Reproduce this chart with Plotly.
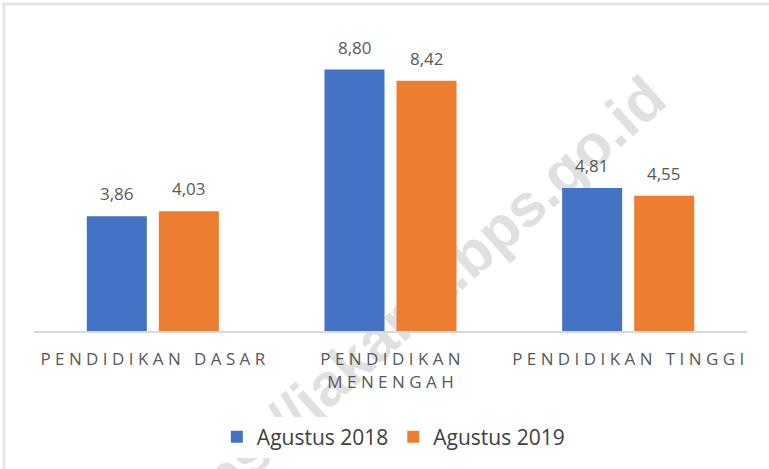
import plotly.graph_objects as go

categories = ["PENDIDIKAN DASAR", "PENDIDIKAN MENENGAH", "PENDIDIKAN TINGGI"]
tick_labels = [
    "P E N D I D I K A N   D A S A R",
    "P E N D I D I K A N<br>M E N E N G A H",
    "P E N D I D I K A N   T I N G G I",
]
series_names = ["Agustus 2018", "Agustus 2019"]
values_2018 = [3.86, 8.80, 4.81]
values_2019 = [4.03, 8.42, 4.55]
colors = ["#4472C4", "#ED7D31"]
watermark = "https://jakarta.bps.go.id"

FONT = "Open Sans"


def spaced(s):
    return s.replace(" ", "\u00a0")


fig = go.Figure()
for name, vals, col in zip(series_names, [values_2018, values_2019], colors):
    fig.add_trace(go.Bar(
        x=categories, y=vals, name=name,
        marker=dict(color=col, line=dict(width=0)),
    ))

# data labels above each bar
bar_px = 60
gap_px = 12
for s, vals in enumerate([values_2018, values_2019]):
    shift = (s - 0.5) * (bar_px + gap_px)
    for c, v in zip(categories, vals):
        fig.add_annotation(
            x=c, y=v, text=f"{v:.2f}".replace(".", ","),
            showarrow=False, yanchor="bottom", xanchor="center",
            xshift=shift, yshift=9,
            font=dict(family=FONT, size=17, color="#595959"),
        )

# watermark behind bars
fig.add_shape(
    type="line", xref="paper", yref="paper",
    x0=0.504, y0=0.07, x1=0.524, y1=0.07,
    line=dict(color="rgba(0,0,0,0)", width=1),
    layer="below",
    label=dict(text=watermark, textposition="middle", textangle=-42,
               yanchor="middle", padding=0,
               font=dict(family="Liberation Sans", size=60, color="#e0e0e0",
                         weight="bold")),
)

fig.update_layout(
    width=769, height=469,
    margin=dict(l=34, r=22, t=30, b=138),
    paper_bgcolor="white", plot_bgcolor="white",
    barmode="group", bargap=0.394, bargroupgap=0.1667,
    showlegend=True,
    legend=dict(orientation="h", x=0.504, xanchor="center",
                yref="container", y=0.068, yanchor="middle",
                font=dict(family=FONT, size=21, color="#404040"),
                itemwidth=30, tracegroupgap=0),
    xaxis=dict(
        tickmode="array", tickvals=categories,
        ticktext=[spaced(t) for t in tick_labels],
        tickfont=dict(family=FONT, size=17, color="#595959"),
        showline=True, linecolor="#d9d9d9", linewidth=2,
        ticks="", ticklabelstandoff=12, automargin=False,
        range=[-0.5, 2.5], showgrid=False,
    ),
    yaxis=dict(range=[0, 10.13], visible=False, showgrid=False, automargin=False),
    shapes=list(fig.layout.shapes) + [
        dict(type="line", xref="paper", yref="paper", x0=-0.045, x1=1.1,
             y0=1.0864, y1=1.0864, line=dict(color="#e6e6e6", width=3)),
        dict(type="line", xref="paper", yref="paper", x0=-0.042, x1=-0.042,
             y0=-0.5, y1=1.0864, line=dict(color="#e6e6e6", width=3)),
    ],
)

fig.write_html("out.html", config={"displayModeBar": False},
               post_script="document.body.style.margin='0';")
